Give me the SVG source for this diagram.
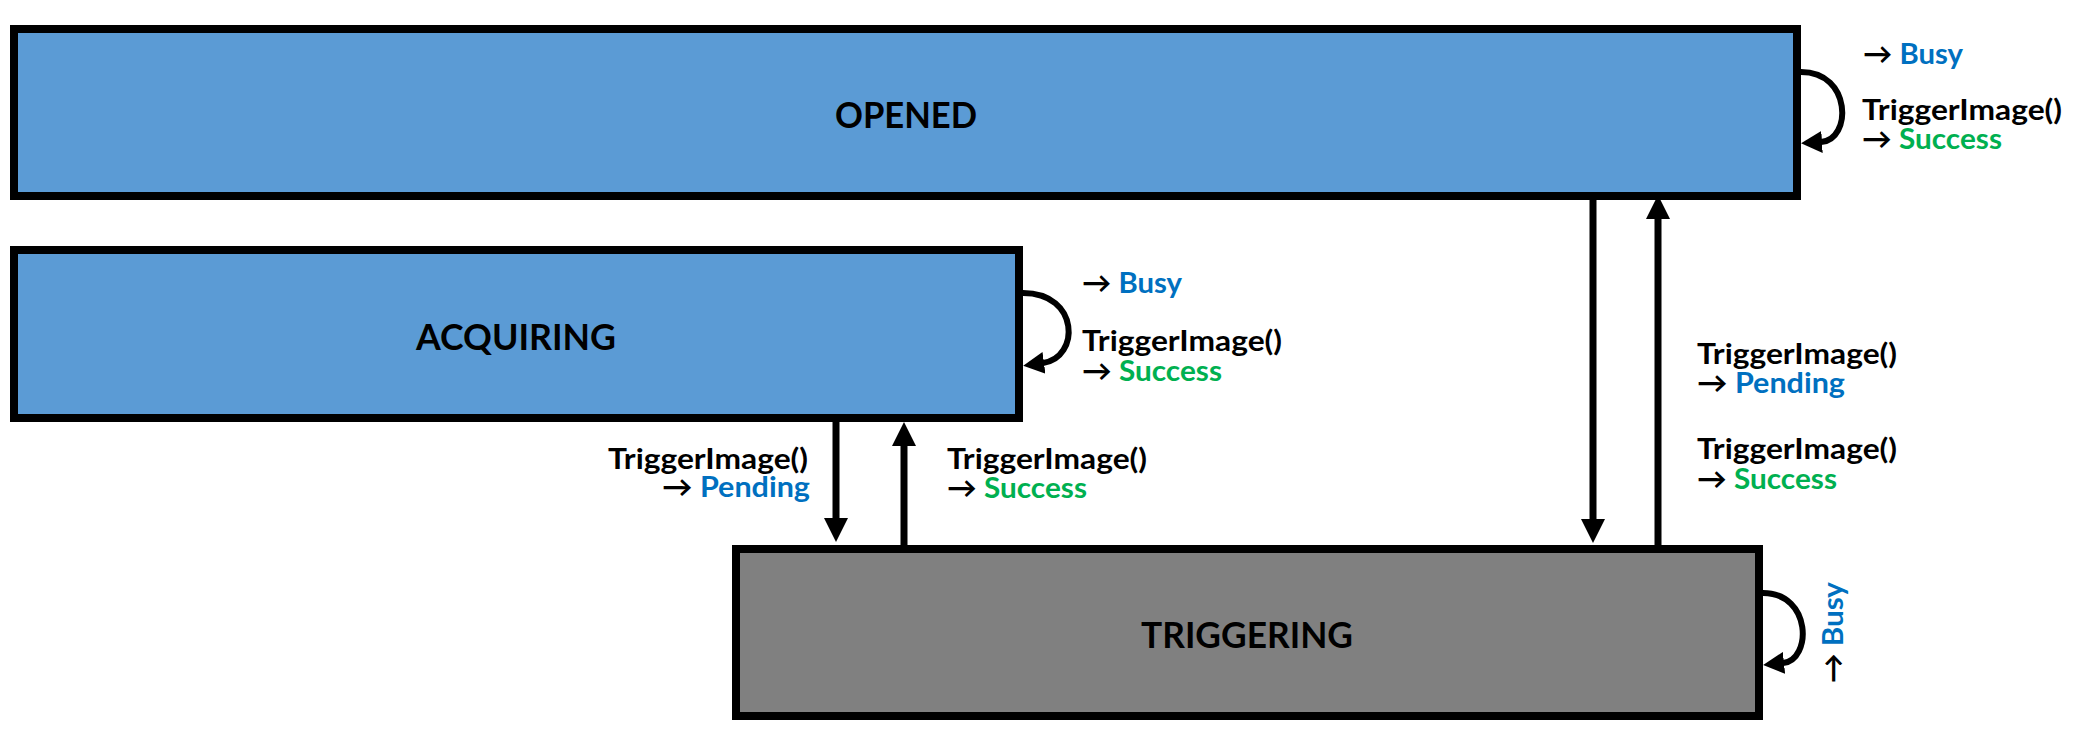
<svg xmlns="http://www.w3.org/2000/svg" width="2088" height="750" viewBox="0 0 2088 750">
<defs>
<style>
.box{stroke:#000;stroke-width:8}
.blue{fill:#5B9BD5}
.gray{fill:#808080}
.title{font-family:Lato,"Liberation Sans",sans-serif;font-weight:bold;font-size:37px;fill:#000;text-anchor:middle}
.lbl{font-family:Lato,"DejaVu Sans",sans-serif;font-weight:bold;font-size:29px;fill:#000}
.b{fill:#0070C0}
.g{fill:#00B050}
.conn{stroke:#000;stroke-width:7;fill:none}
.loop{stroke:#000;stroke-width:6;fill:none}
</style>
<marker id="head" markerUnits="userSpaceOnUse" viewBox="0 0 24 24" markerWidth="24" markerHeight="24" refX="1" refY="12" orient="auto">
<path d="M0,0 L24,12 L0,24 z" fill="#000"/>
</marker>
<marker id="lhead" markerUnits="userSpaceOnUse" viewBox="0 0 21 22" markerWidth="21" markerHeight="22" refX="1" refY="11" orient="auto">
<path d="M0,0 L21,11 L0,22 z" fill="#000"/>
</marker>
</defs>
<rect width="2088" height="750" fill="#fff"/>

<g id="connectors">
<line class="conn" x1="836" y1="422" x2="836" y2="519" marker-end="url(#head)"/>
<line class="conn" x1="904" y1="545" x2="904" y2="445" marker-end="url(#head)"/>
<line class="conn" x1="1593" y1="200" x2="1593" y2="520" marker-end="url(#head)"/>
<line class="conn" x1="1658" y1="545" x2="1658" y2="218" marker-end="url(#head)"/>
<path class="loop" d="M1801,72 C1852,72 1852,140 1821,142" marker-end="url(#lhead)"/>
<path class="loop" d="M1023,293 C1080,293 1080,358 1043,363" marker-end="url(#lhead)"/>
<path class="loop" d="M1763,593 C1812,593 1812,660 1783,663" marker-end="url(#lhead)"/>
</g>

<g id="labels">
<text class="lbl" x="1863" y="64" textLength="100" lengthAdjust="spacingAndGlyphs">→ <tspan class="b">Busy</tspan></text>
<text class="lbl" x="1862" y="120" textLength="200" lengthAdjust="spacingAndGlyphs">TriggerImage()</text>
<text class="lbl" x="1862" y="149" textLength="140" lengthAdjust="spacingAndGlyphs">→ <tspan class="g">Success</tspan></text>

<text class="lbl" x="1082" y="293" textLength="100" lengthAdjust="spacingAndGlyphs">→ <tspan class="b">Busy</tspan></text>
<text class="lbl" x="1082" y="351" textLength="200" lengthAdjust="spacingAndGlyphs">TriggerImage()</text>
<text class="lbl" x="1082" y="381" textLength="140" lengthAdjust="spacingAndGlyphs">→ <tspan class="g">Success</tspan></text>

<text class="lbl" x="808" y="469" text-anchor="end" textLength="200" lengthAdjust="spacingAndGlyphs">TriggerImage()</text>
<text class="lbl" x="810" y="497" text-anchor="end" textLength="148" lengthAdjust="spacingAndGlyphs">→ <tspan class="b">Pending</tspan></text>

<text class="lbl" x="947" y="469" textLength="200" lengthAdjust="spacingAndGlyphs">TriggerImage()</text>
<text class="lbl" x="947" y="498" textLength="140" lengthAdjust="spacingAndGlyphs">→ <tspan class="g">Success</tspan></text>

<text class="lbl" x="1697" y="364" textLength="200" lengthAdjust="spacingAndGlyphs">TriggerImage()</text>
<text class="lbl" x="1697" y="393" textLength="148" lengthAdjust="spacingAndGlyphs">→ <tspan class="b">Pending</tspan></text>
<text class="lbl" x="1697" y="459" textLength="200" lengthAdjust="spacingAndGlyphs">TriggerImage()</text>
<text class="lbl" x="1697" y="489" textLength="140" lengthAdjust="spacingAndGlyphs">→ <tspan class="g">Success</tspan></text>

<text class="lbl" transform="translate(1843,683) rotate(-90)" x="0" y="0" textLength="101" lengthAdjust="spacingAndGlyphs">→ <tspan class="b">Busy</tspan></text>
</g>

<g id="node-opened">
<rect class="box blue" x="14" y="29" width="1783" height="167"/>
<text class="title" x="906" y="128" textLength="142" lengthAdjust="spacingAndGlyphs">OPENED</text>
</g>
<g id="node-acquiring">
<rect class="box blue" x="14" y="250" width="1005" height="168"/>
<text class="title" x="516" y="350" textLength="200" lengthAdjust="spacingAndGlyphs">ACQUIRING</text>
</g>
<g id="node-triggering">
<rect class="box gray" x="736" y="549" width="1023" height="167"/>
<text class="title" x="1247" y="648" textLength="212" lengthAdjust="spacingAndGlyphs">TRIGGERING</text>
</g>
</svg>
